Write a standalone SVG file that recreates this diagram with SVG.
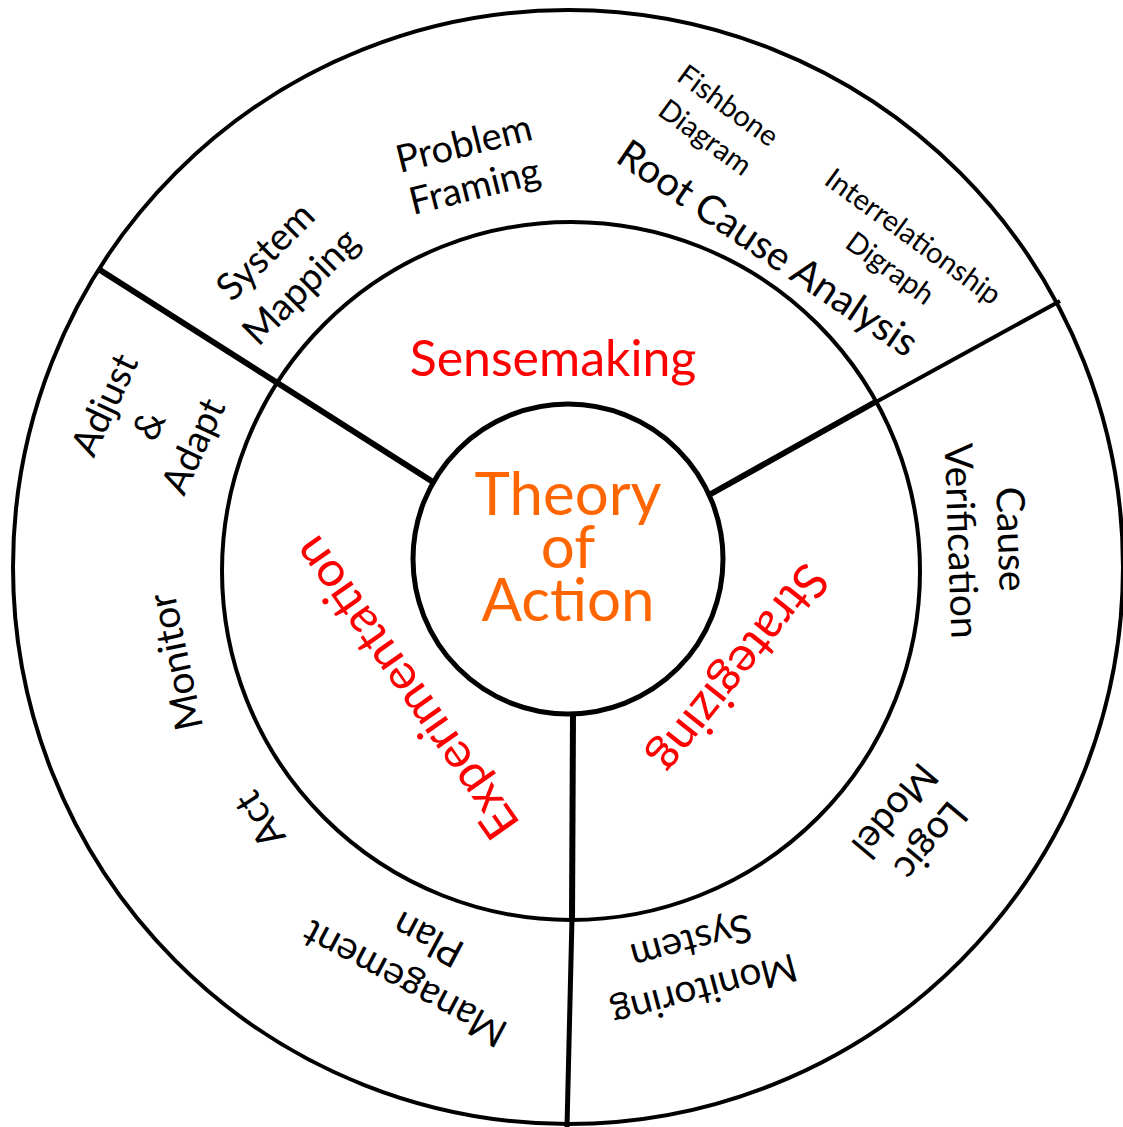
<svg xmlns="http://www.w3.org/2000/svg" width="1123" height="1127" viewBox="0 0 1123 1127">
<style>
  .ring { fill: none; stroke: #000; }
  .div { stroke: #000; stroke-linecap: butt; fill: none; }
  .lbl { font-family: "Lato", "Open Sans", sans-serif; fill: #000; text-anchor: middle; }
  .phase { font-family: "Lato", "Open Sans", sans-serif; fill: #FF0000; text-anchor: middle; }
  .core { font-family: "Lato", "Open Sans", sans-serif; fill: #FF6600; text-anchor: middle; }
</style>
<rect width="1123" height="1127" fill="#fff"/>

<g id="rings">
  <ellipse class="ring" cx="568" cy="567" rx="555" ry="557" stroke-width="4"/>
  <circle class="ring" cx="571" cy="571" r="349" stroke-width="4"/>
</g>

<g id="connectors">
  <line class="div" x1="100" y1="270" x2="433" y2="482" stroke-width="6"/>
  <line class="div" x1="709" y1="495" x2="877" y2="401" stroke-width="6"/>
  <line class="div" x1="876" y1="402" x2="1060" y2="301" stroke-width="4"/>
  <line class="div" x1="573" y1="713" x2="572" y2="920" stroke-width="6"/>
  <line class="div" x1="572" y1="918" x2="567" y2="1127" stroke-width="5"/>
</g>

<g id="theory-of-action">
  <circle cx="568" cy="559" r="155" fill="#fff" stroke="#000" stroke-width="5"/>
  <text class="core" font-size="60"><tspan x="568" y="515">Theory</tspan><tspan x="568" y="568">of</tspan><tspan x="568" y="621">Action</tspan></text>
</g>

<g id="sensemaking">
  <text class="phase" x="553" y="376" font-size="50">Sensemaking</text>
</g>
<g id="experimentation" transform="translate(407,687) rotate(-125)">
  <text class="phase" x="0" y="15" font-size="49">Experimentation</text>
</g>
<g id="strategizing" transform="translate(738,668) rotate(128.5)">
  <text class="phase" x="0" y="15" font-size="49">Strategizing</text>
</g>

<g id="system-mapping" transform="translate(283,269) rotate(-45)">
  <text class="lbl" font-size="38"><tspan x="0" y="-12">System</tspan><tspan x="0" y="38">Mapping</tspan></text>
</g>
<g id="problem-framing" transform="translate(469,164) rotate(-14)">
  <text class="lbl" font-size="38"><tspan x="0" y="-8">Problem</tspan><tspan x="0" y="36">Framing</tspan></text>
</g>
<g id="fishbone-diagram" transform="translate(717,121) rotate(36)">
  <text class="lbl" font-size="29"><tspan x="0" y="-9">Fishbone</tspan><tspan x="0" y="30">Diagram</tspan></text>
</g>
<g id="root-cause-analysis" transform="translate(768,248) rotate(34)">
  <text class="lbl" x="0" y="14" font-size="40">Root Cause Analysis</text>
</g>
<g id="interrelationship-digraph" transform="translate(902,252) rotate(36)">
  <text class="lbl" font-size="29"><tspan x="0" y="-9">Interrelationship</tspan><tspan x="0" y="30">Digraph</tspan></text>
</g>
<g id="cause-verification" transform="translate(987,540) rotate(88)">
  <text class="lbl" font-size="39"><tspan x="0" y="-11">Cause</tspan><tspan x="0" y="39">Verification</tspan></text>
</g>
<g id="logic-model" transform="translate(913,826) rotate(130)">
  <text class="lbl" font-size="39"><tspan x="0" y="-10">Logic</tspan><tspan x="0" y="37">Model</tspan></text>
</g>
<g id="monitoring-system" transform="translate(698,967) rotate(165)">
  <text class="lbl" font-size="39"><tspan x="0" y="-11">Monitoring</tspan><tspan x="0" y="39">System</tspan></text>
</g>
<g id="management-plan" transform="translate(416,962) rotate(-152)">
  <text class="lbl" font-size="39"><tspan x="0" y="-11">Management</tspan><tspan x="0" y="39">Plan</tspan></text>
</g>
<g id="act" transform="translate(259,820) rotate(-123)">
  <text class="lbl" x="0" y="14" font-size="39">Act</text>
</g>
<g id="monitor" transform="translate(175,662) rotate(-102)">
  <text class="lbl" x="0" y="14" font-size="39">Monitor</text>
</g>
<g id="adjust-adapt" transform="translate(148,425) rotate(-65)">
  <text class="lbl" font-size="38"><tspan x="0" y="-35">Adjust</tspan><tspan x="0" y="14">&amp;</tspan><tspan x="0" y="63">Adapt</tspan></text>
</g>
</svg>
